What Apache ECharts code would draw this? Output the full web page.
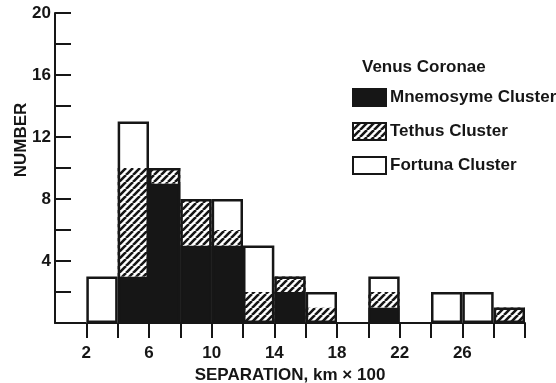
<!DOCTYPE html>
<html>
<head>
<meta charset="utf-8">
<script src="https://cdn.jsdelivr.net/npm/echarts@6/dist/echarts.min.js"></script>
<style>
html,body{margin:0;padding:0;background:#fff;}
#chart{width:556px;height:383px;}
</style>
</head>
<body>
<div id="chart"></div>
<script>
// Bins of width 2 (km x 100), starting values
const binStarts = [0, 2, 4, 6, 8, 10, 12, 14, 16, 18, 20, 22, 24, 26, 28];
const mnemosyme = [0, 0, 3, 9, 5, 5, 0, 2, 0, 0, 1, 0, 0, 0, 0];
const tethus    = [0, 0, 7, 1, 3, 1, 2, 1, 1, 0, 1, 0, 0, 0, 1];
const fortuna   = [0, 3, 3, 0, 0, 2, 3, 0, 1, 0, 1, 0, 2, 2, 0];
const seriesNames = ['Mnemosyme Cluster', 'Tethus Cluster', 'Fortuna Cluster'];
const xTickMarks = [2, 4, 6, 8, 10, 12, 14, 16, 18, 20, 22, 24, 26, 28, 30];
const xTickLabels = [2, 6, 10, 14, 18, 22, 26];
const yTickLabels = [4, 8, 12, 16, 20];

const INK = '#161616';
const FONT = 'Liberation Sans';
const FS = 17;

function makeHatch() {
  const s = 7;
  const c = document.createElement('canvas');
  c.width = s; c.height = s;
  const g = c.getContext('2d');
  g.fillStyle = '#ffffff';
  g.fillRect(0, 0, s, s);
  g.strokeStyle = INK;
  g.lineWidth = 2.6;
  g.beginPath();
  for (const o of [-s, 0, s]) { g.moveTo(o, s); g.lineTo(o + s, 0); }
  g.stroke();
  return c;
}
const hatch = { image: makeHatch(), repeat: 'repeat' };

const categories = binStarts.map(b => b + '-' + (b + 2));
const totals = binStarts.map((_, i) => {
  const t = mnemosyme[i] + tethus[i] + fortuna[i];
  return t > 0 ? t : '-';
});

const chart = echarts.init(document.getElementById('chart'));
chart.setOption({
  animation: false,
  backgroundColor: '#ffffff',
  textStyle: { fontFamily: FONT, fontWeight: 'bold', color: INK },
  title: {
    text: 'Venus Coronae',
    left: 362, top: 59, padding: 0,
    textStyle: { fontFamily: FONT, fontWeight: 'bold', fontSize: FS, color: INK }
  },
  legend: {
    data: seriesNames,
    orient: 'vertical',
    left: 352, top: 88, padding: 0,
    itemWidth: 33, itemHeight: 17, itemGap: 15,
    icon: 'rect',
    itemStyle: { borderColor: INK, borderWidth: 2 },
    textStyle: { fontFamily: FONT, fontWeight: 'bold', fontSize: FS, color: INK, padding: [0, 0, 0, -1] }
  },
  graphic: [{
    type: 'text', x: 21, y: 140, rotation: Math.PI / 2,
    style: { text: 'NUMBER', align: 'center', verticalAlign: 'middle',
      font: 'bold 17px "Liberation Sans"', fill: INK }
  }],
  grid: { left: 55, right: 31, top: 13, bottom: 60, containLabel: false, outerBoundsMode: 'none' },
  xAxis: [{
    type: 'category', data: categories, show: false, boundaryGap: true
  }, {
    type: 'value', min: 0, max: 30, position: 'bottom',
    name: 'SEPARATION, km \u00d7 100', nameLocation: 'middle', nameGap: 40,
    nameTextStyle: { fontFamily: FONT, fontWeight: 'bold', fontSize: FS, color: INK },
    axisLine: { show: true, onZero: false, lineStyle: { color: INK, width: 2 } },
    axisTick: { show: true, inside: false, length: 15, customValues: xTickMarks,
      lineStyle: { color: INK, width: 2 } },
    axisLabel: { show: true, customValues: xTickLabels, margin: 22,
      fontFamily: FONT, fontWeight: 'bold', fontSize: FS, color: INK },
    splitLine: { show: false }
  }],
  yAxis: {
    type: 'value', min: 0, max: 20, interval: 2,
    axisLine: { show: true, lineStyle: { color: INK, width: 2 } },
    axisTick: { show: true, inside: true, length: 16, lineStyle: { color: INK, width: 2 } },
    axisLabel: {
      margin: 4, fontFamily: FONT, fontWeight: 'bold', fontSize: FS, color: INK,
      formatter: v => (yTickLabels.indexOf(v) >= 0 ? String(v) : '')
    },
    splitLine: { show: false }
  },
  series: [
    { name: seriesNames[0], type: 'bar', stack: 'c', xAxisIndex: 0, data: mnemosyme,
      barCategoryGap: '0%', itemStyle: { color: INK, borderWidth: 0 } },
    { name: seriesNames[1], type: 'bar', stack: 'c', xAxisIndex: 0, data: tethus,
      itemStyle: { color: hatch, borderWidth: 0 } },
    { name: seriesNames[2], type: 'bar', stack: 'c', xAxisIndex: 0, data: fortuna,
      itemStyle: { color: '#ffffff', borderWidth: 0 } },
    { name: 'outline', type: 'bar', xAxisIndex: 0, data: totals,
      barGap: '-100%', barCategoryGap: '0%', z: 5, silent: true,
      itemStyle: { color: 'rgba(0,0,0,0)', borderColor: INK, borderWidth: 2.5 } }
  ]
});
</script>
</body>
</html>
